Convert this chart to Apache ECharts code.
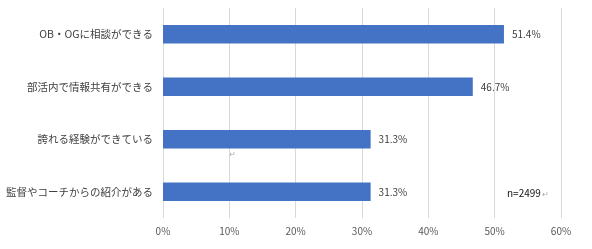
<!DOCTYPE html>
<html><head><meta charset="utf-8">
<script src="https://cdn.jsdelivr.net/npm/echarts@6/dist/echarts.min.js"></script>
<style>html,body{margin:0;padding:0;background:#fff}#c{width:592px;height:249px}</style>
</head><body><div id="c"></div>
<script>
const categories = ['OB・OGに相談ができる','部活内で情報共有ができる','誇れる経験ができている','監督やコーチからの紹介がある'];
const values = [51.4, 46.7, 31.3, 31.3];
const noteText = 'n=2499';
const chart = echarts.init(document.getElementById('c'));
const font = '"Noto Sans CJK JP", "Noto Sans", sans-serif';
chart.setOption({
  animation: false,
  grid: {left: 163, right: 31, top: 8, bottom: 31, containLabel: false},
  xAxis: {
    type: 'value', min: 0, max: 60, interval: 10,
    axisLine: {show: false}, axisTick: {show: false},
    splitLine: {lineStyle: {color: '#d9d9d9', width: 1}},
    axisLabel: {formatter: '{value}%', color: '#595959', fontSize: 10, fontFamily: font, margin: 8}
  },
  yAxis: {
    type: 'category', data: categories, inverse: true,
    axisLine: {show: false}, axisTick: {show: false},
    axisLabel: {color: '#404040', fontSize: 10.5, fontFamily: font, margin: 10}
  },
  series: [{
    type: 'bar', data: values, barCategoryGap: '65%',
    itemStyle: {color: '#4472C4'},
    label: {show: true, position: 'right', distance: 8, formatter: p => p.value.toFixed(1) + '%', color: '#404040', fontSize: 10, fontFamily: font}
  }],
  graphic: [
    {type: 'text', left: 507, top: 188, style: {text: noteText, fill: '#111', font: '10px ' + font}},
    {type: 'text', left: 542, top: 190, style: {text: '↵', fill: '#aaa', font: '8px ' + font}},
    {type: 'text', left: 229, top: 150, style: {text: '↵', fill: '#aaa', font: '8px ' + font}}
  ]
});
</script></body></html>
